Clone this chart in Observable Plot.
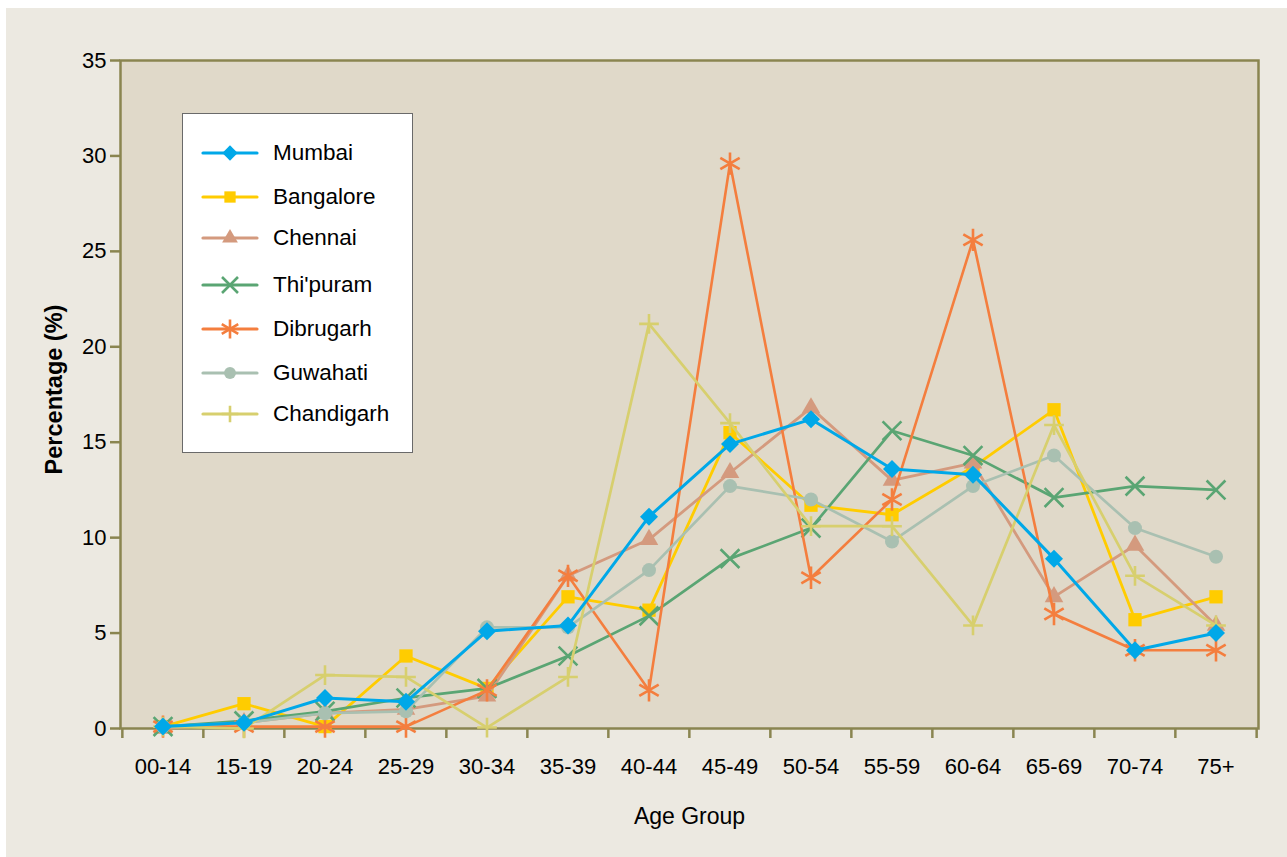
<!DOCTYPE html>
<html><head><meta charset="utf-8">
<script src="https://cdn.jsdelivr.net/npm/d3@7"></script>
<script src="https://cdn.jsdelivr.net/npm/@observablehq/plot@0.6"></script>
<style>
body{margin:0;background:#fff;width:1287px;height:857px;position:relative;overflow:hidden;font-family:"Liberation Sans",Arial,sans-serif}
#bg{position:absolute;left:6px;top:8px;right:0;bottom:0;background:#ECE9E1}
#chart{position:absolute;left:0;top:0}
#legend{position:absolute;left:182px;top:113px;width:231px;height:340px;background:#fff;border:1px solid #6a6a6a;box-sizing:border-box}
.row{position:absolute;left:0;height:30px;display:flex;align-items:center}
.row span{font-size:22.5px;color:#000;margin-left:14px}
</style></head><body>
<div id="bg"></div><div id="chart"></div><div id="legend"></div>
<script>
// ---- data ----
const ages = ["00-14","15-19","20-24","25-29","30-34","35-39","40-44","45-49","50-54","55-59","60-64","65-69","70-74","75+"];
const yTicks = [0,5,10,15,20,25,30,35];
const cities = ["Mumbai","Bangalore","Chennai","Thi'puram","Dibrugarh","Guwahati","Chandigarh"];
const mumbai     = [0.1,0.3,1.6,1.4,5.1,5.4,11.1,14.9,16.2,13.6,13.3,8.9,4.1,5.0];
const bangalore  = [0.1,1.3,0.1,3.8,2.1,6.9,6.2,15.5,11.7,11.2,13.7,16.7,5.7,6.9];
const chennai    = [0.0,0.3,0.8,1.0,1.7,8.0,9.9,13.4,16.8,13.0,13.9,6.9,9.6,5.4];
const thiruvan   = [0.1,0.4,0.9,1.6,2.1,3.8,5.9,8.9,10.5,15.6,14.3,12.1,12.7,12.5];
const dibrugarh  = [0.1,0.1,0.1,0.1,2.0,8.0,2.0,29.6,7.9,12.0,25.6,6.0,4.1,4.1];
const guwahati   = [0.1,0.3,0.8,0.9,5.3,5.3,8.3,12.7,12.0,9.8,12.7,14.3,10.5,9.0];
const chandigarh = [0.1,0.0,2.8,2.7,0.05,2.7,21.2,16.0,10.6,10.6,5.4,15.9,8.0,5.4];
const seriesValues = [mumbai,bangalore,chennai,thiruvan,dibrugarh,guwahati,chandigarh];

// ---- styles ----
const styles = {
  "Mumbai":     {color:"#00A8E8", symbol:"diamond2", filled:true,  r:8.1, sw:3.0},
  "Bangalore":  {color:"#FFCC00", symbol:"square",   filled:true,  r:7.5, sw:2.8},
  "Chennai":    {color:"#D49A7E", symbol:"triangle", filled:true,  r:6.9, sw:2.8},
  "Thi'puram":  {color:"#5AA573", symbol:"times",    filled:false, r:8.6, sw:2.7},
  "Dibrugarh":  {color:"#F47E3E", symbol:"asterisk", filled:false, r:10.6,sw:2.6},
  "Guwahati":   {color:"#A9C0B1", symbol:"circle",   filled:true,  r:7.0, sw:2.7},
  "Chandigarh": {color:"#D7CF6E", symbol:"plus",     filled:false, r:6.4, sw:2.7}
};
const drawOrder = ["Bangalore","Chennai","Thi'puram","Dibrugarh","Guwahati","Chandigarh","Mumbai"];
const olive = "#8A8550";

const rows = [];
cities.forEach((c, i) => seriesValues[i].forEach((v, j) => rows.push({city: c, age: ages[j], value: v})));

const W = 1287, H = 857, mL = 120, mR = 29, mT = 60, mB = 129;
const half = (W - mL - mR) / ages.length / 2;

const marks = [
  Plot.frame({fill: "#E0D9C9", stroke: olive, strokeWidth: 2.5}),
  Plot.axisY({ticks: yTicks, tickSize: 10, tickPadding: 4, stroke: olive, strokeWidth: 2.5, fill: "#000", fontSize: 22, label: null}),
  Plot.axisX({tickSize: 10, text: null, dx: -half, stroke: olive, strokeWidth: 2.5, label: null}),
  Plot.axisX([ages[ages.length - 1]], {tickSize: 10, text: null, dx: half, stroke: olive, strokeWidth: 2.5, label: null}),
  Plot.axisX({tickSize: 0, tickPadding: 30, fill: "#000", fontSize: 22, label: null}),
  Plot.text(["Age Group"], {frameAnchor: "bottom", dy: 95, fontSize: 23, fill: "#000"}),
  Plot.text(["Percentage (%)"], {frameAnchor: "left", textAnchor: "middle", dx: -66, dy: -5, rotate: -90, fontSize: 23.5, fontWeight: "bold", fill: "#000"})
];
for (const c of drawOrder) {
  const s = styles[c];
  const d = rows.filter(r => r.city === c);
  marks.push(Plot.line(d, {x: "age", y: "value", stroke: s.color, strokeWidth: s.sw}));
  marks.push(Plot.dot(d, s.filled
    ? {x: "age", y: "value", symbol: s.symbol, r: s.r, fill: s.color, stroke: "none"}
    : {x: "age", y: "value", symbol: s.symbol, r: s.r, stroke: s.color, strokeWidth: 2.6, fill: "none"}));
}

const chart = Plot.plot({
  width: W, height: H,
  marginLeft: mL, marginRight: mR, marginTop: mT, marginBottom: mB,
  style: {background: "transparent", fontFamily: "'Liberation Sans', Arial, sans-serif"},
  x: {type: "band", domain: ages, padding: 0},
  y: {domain: [0, 35]},
  marks
});
document.getElementById("chart").append(chart);

// ---- legend ----
const symMap = {diamond2: d3.symbolDiamond2, square: d3.symbolSquare, triangle: d3.symbolTriangle, times: d3.symbolTimes, asterisk: d3.symbolAsterisk, circle: d3.symbolCircle, plus: d3.symbolPlus};
const rowCenters = [38.7, 82.7, 124.3, 171.3, 214.7, 258.7, 300.3];
const leg = document.getElementById("legend");
cities.forEach((c, i) => {
  const s = styles[c];
  const row = document.createElement("div");
  row.className = "row";
  row.style.top = (rowCenters[i] - 15) + "px";
  const svg = d3.create("svg").attr("width", 76).attr("height", 30);
  svg.append("line").attr("x1", 20).attr("x2", 74).attr("y1", 15).attr("y2", 15)
     .attr("stroke", s.color).attr("stroke-width", 3.2).attr("stroke-linecap", "round");
  const rr = s.r * 0.85;
  const p = d3.symbol(symMap[s.symbol], Math.PI * rr * rr)();
  svg.append("path").attr("d", p).attr("transform", "translate(47,15)")
     .attr("fill", s.filled ? s.color : "none").attr("stroke", s.filled ? "none" : s.color).attr("stroke-width", 2.6);
  row.append(svg.node());
  const t = document.createElement("span");
  t.textContent = c;
  row.append(t);
  leg.append(row);
});
</script>
</body></html>
